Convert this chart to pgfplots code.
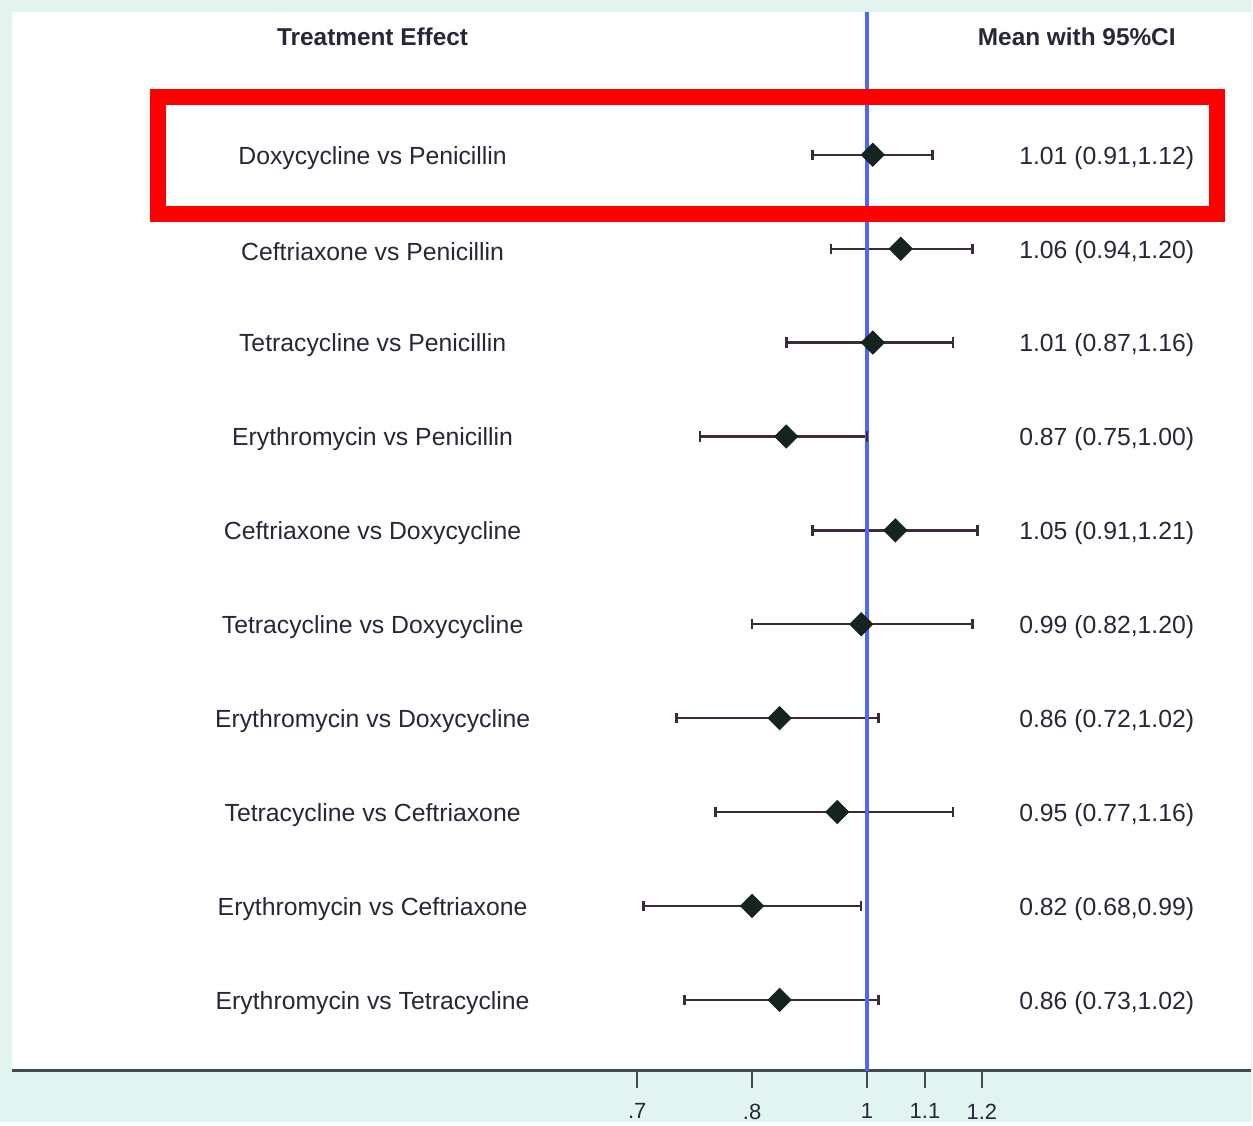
\documentclass[border=0pt]{standalone}
\usepackage{pgfplots}
\pgfplotsset{compat=1.18}
\usepackage{fontspec}
\setmainfont{Liberation Sans}
\definecolor{mint}{RGB}{226,244,239}
\definecolor{axisgray}{RGB}{62,76,76}
\definecolor{refblue}{RGB}{78,102,250}
\definecolor{cic}{RGB}{58,42,58}
\definecolor{markc}{RGB}{22,36,31}
\definecolor{txt}{RGB}{38,40,55}
\pgfplotstableread{
y mean
10 1.01
9 1.06
8 1.01
7 0.87
6 1.05
5 0.99
4 0.86
3 0.95
2 0.82
1 0.86
}\means
\begin{document}
\begin{tikzpicture}
\fill[mint] (0,0) rectangle (626.5pt,561.5pt);
\begin{axis}[
  at={(6pt,25.5pt)}, anchor=south west,
  scale only axis, width=620.5pt, height=530pt,
  xmode=log, xmin=0.2286, xmax=1.942,
  ymin=0.2447, ymax=11.5213,
  axis x line*=bottom, axis y line=none,
  axis background/.style={fill=white},
  axis line style={line width=1.5pt, axisgray},
  xtick={0.6726,0.8201,1,1.1052,1.2193},
  xticklabels={.7,.8,1,1.1,1.2},
  minor xtick={},
  xtick align=outside,
  major tick length=8.5pt,
  xtick style={line width=1.3pt, axisgray},
  xticklabel style={font=\fontsize{11}{13}\selectfont, text=txt, yshift=-4.5pt},
  ytick=\empty,
  clip=false,
]
% confidence intervals
\pgfplotsset{cistyle/.style={cic, line width=1.2pt, mark=|, mark size=2.6pt, mark options={line width=1.2pt, cic}}}
\addplot[cistyle] coordinates {(0.91,10) (1.12,10)};
\addplot[cistyle] coordinates {(0.94,9) (1.20,9)};
\addplot[cistyle] coordinates {(0.87,8) (1.16,8)};
\addplot[cistyle] coordinates {(0.75,7) (1.00,7)};
\addplot[cistyle] coordinates {(0.91,6) (1.21,6)};
\addplot[cistyle] coordinates {(0.82,5) (1.20,5)};
\addplot[cistyle] coordinates {(0.72,4) (1.02,4)};
\addplot[cistyle] coordinates {(0.77,3) (1.16,3)};
\addplot[cistyle] coordinates {(0.68,2) (0.99,2)};
\addplot[cistyle] coordinates {(0.73,1) (1.02,1)};
% reference line
\addplot[refblue, line width=1.6pt] coordinates {(1,0.2447) (1,11.5213)};
% point estimates
\addplot[only marks, mark=square*, mark size=4.1pt, mark options={rotate=45, fill=markc, draw=markc}] table[x=mean, y=y] {\means};
% labels
\begin{scope}[font=\fontsize{12.4}{14}\selectfont, text=txt, yshift=-1.5pt]
\node at (axis cs:0.4260,10) {Doxycycline vs Penicillin};
\node at (axis cs:0.4260,9) {Ceftriaxone vs Penicillin};
\node at (axis cs:0.4260,8) {Tetracycline vs Penicillin};
\node at (axis cs:0.4260,7) {Erythromycin vs Penicillin};
\node at (axis cs:0.4260,6) {Ceftriaxone vs Doxycycline};
\node at (axis cs:0.4260,5) {Tetracycline vs Doxycycline};
\node at (axis cs:0.4260,4) {Erythromycin vs Doxycycline};
\node at (axis cs:0.4260,3) {Tetracycline vs Ceftriaxone};
\node at (axis cs:0.4260,2) {Erythromycin vs Ceftriaxone};
\node at (axis cs:0.4260,1) {Erythromycin vs Tetracycline};
\node[anchor=west, inner sep=0pt] at (axis cs:1.2997,10) {1.01 (0.91,1.12)};
\node[anchor=west, inner sep=0pt] at (axis cs:1.2997,9) {1.06 (0.94,1.20)};
\node[anchor=west, inner sep=0pt] at (axis cs:1.2997,8) {1.01 (0.87,1.16)};
\node[anchor=west, inner sep=0pt] at (axis cs:1.2997,7) {0.87 (0.75,1.00)};
\node[anchor=west, inner sep=0pt] at (axis cs:1.2997,6) {1.05 (0.91,1.21)};
\node[anchor=west, inner sep=0pt] at (axis cs:1.2997,5) {0.99 (0.82,1.20)};
\node[anchor=west, inner sep=0pt] at (axis cs:1.2997,4) {0.86 (0.72,1.02)};
\node[anchor=west, inner sep=0pt] at (axis cs:1.2997,3) {0.95 (0.77,1.16)};
\node[anchor=west, inner sep=0pt] at (axis cs:1.2997,2) {0.82 (0.68,0.99)};
\node[anchor=west, inner sep=0pt] at (axis cs:1.2997,1) {0.86 (0.73,1.02)};
\end{scope}
\node[font=\fontsize{12.2}{14}\selectfont\bfseries, text=txt] at (axis cs:0.4260,11.2553) {Treatment Effect};
\node[font=\fontsize{12.2}{14}\selectfont\bfseries, text=txt] at (axis cs:1.4363,11.2553) {Mean with 95\%CI};
% highlight box
\draw[red, line width=8pt] (axis cs:0.2940,10.617) rectangle (axis cs:1.8284,9.372);
\end{axis}
\end{tikzpicture}
\end{document}
